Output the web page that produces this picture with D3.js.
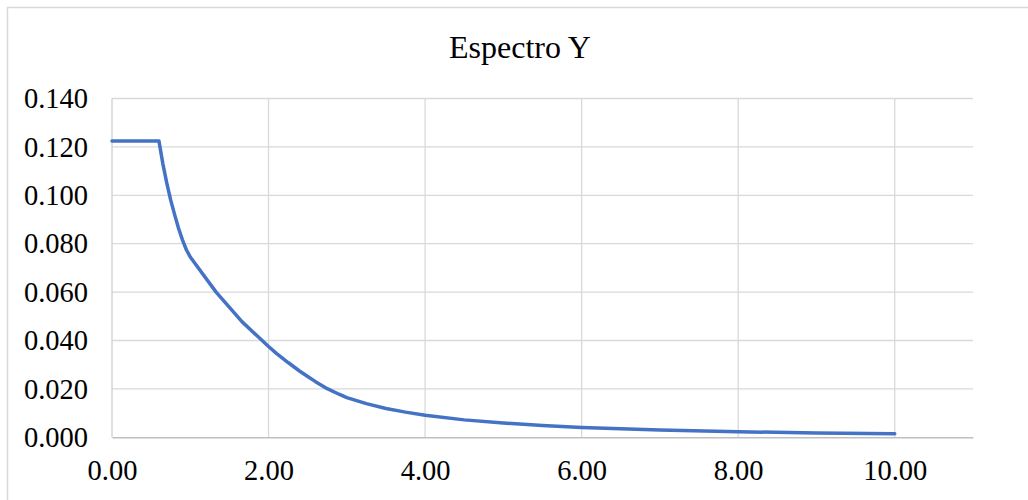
<!DOCTYPE html>
<html>
<head>
<meta charset="utf-8">
<script src="https://cdn.jsdelivr.net/npm/d3@7"></script>
<style>
  body { margin: 0; background: #fff; }
  svg { display: block; font-family: "Liberation Serif", "Times New Roman", serif; }
</style>
</head>
<body>
<div id="chart"></div>
<script>
const title = "Espectro Y";
const periods = [0, 0.6, 0.65, 0.7, 0.75, 0.8, 0.85, 0.9, 0.95, 1.0, 1.33, 1.66, 2.0, 2.1, 2.25, 2.4, 2.5, 2.6, 2.75, 2.9, 3.0, 3.25, 3.5, 3.75, 4.0, 4.5, 5.0, 5.5, 6.0, 7.0, 8.0, 9.0, 10.0];
const accel = [0.1224, 0.1224, 0.1130, 0.1050, 0.0980, 0.0920, 0.0864, 0.0816, 0.0775, 0.0745, 0.0600, 0.0478, 0.0375, 0.0347, 0.0309, 0.0273, 0.0251, 0.0230, 0.0201, 0.0178, 0.0164, 0.0139, 0.0119, 0.0104, 0.0091, 0.0072, 0.0059, 0.0049, 0.0041, 0.0030, 0.0023, 0.0018, 0.0015];
const xTicks = [0, 2, 4, 6, 8, 10];
const yTicks = [0, 0.02, 0.04, 0.06, 0.08, 0.10, 0.12, 0.14];

const width = 1028, height = 500;
const margin = { top: 98.5, right: 55, bottom: 62.7, left: 112 };

const svg = d3.select('#chart').append('svg')
  .attr('width', width)
  .attr('height', height);

// chart area border
svg.append('rect')
  .attr('x', 7.5).attr('y', 7.5)
  .attr('width', 1040).attr('height', 510)
  .attr('fill', 'none')
  .attr('stroke', '#d9d9d9')
  .attr('stroke-width', 1.5);

const x = d3.scaleLinear().domain([0, 11]).range([margin.left, width - margin.right]);
const y = d3.scaleLinear().domain([0, 0.14]).range([height - margin.bottom, margin.top]);

// horizontal gridlines
svg.append('g')
  .selectAll('line')
  .data(yTicks.slice(1))
  .enter().append('line')
  .attr('x1', x(0)).attr('x2', x(11))
  .attr('y1', d => y(d)).attr('y2', d => y(d))
  .attr('stroke', '#d9d9d9')
  .attr('stroke-width', 1.3);

// vertical gridlines
svg.append('g')
  .selectAll('line')
  .data(xTicks)
  .enter().append('line')
  .attr('x1', d => x(d)).attr('x2', d => x(d))
  .attr('y1', y(0.14)).attr('y2', y(0))
  .attr('stroke', d => d === 0 ? '#cfcfcf' : '#d9d9d9')
  .attr('stroke-width', 1.3);

// x axis
const xAxis = svg.append('g')
  .attr('transform', `translate(0,${y(0)})`)
  .call(d3.axisBottom(x).tickValues(xTicks).tickSize(0).tickPadding(22).tickFormat(d3.format('.2f')));
xAxis.select('.domain').attr('stroke', '#bfbfbf').attr('stroke-width', 1.5);
xAxis.selectAll('text')
  .attr('font-family', '"Liberation Serif", "Times New Roman", serif')
  .attr('font-size', 28.5)
  .attr('fill', '#000');

// y axis
const yAxis = svg.append('g')
  .attr('transform', `translate(${x(0)},0)`)
  .call(d3.axisLeft(y).tickValues(yTicks).tickSize(0).tickPadding(24).tickFormat(d3.format('.3f')));
yAxis.select('.domain').remove();
yAxis.selectAll('text')
  .attr('font-family', '"Liberation Serif", "Times New Roman", serif')
  .attr('font-size', 28.5)
  .attr('fill', '#000');

// spectrum line
const line = d3.line()
  .x((d, i) => x(periods[i]))
  .y(d => y(d));

svg.append('path')
  .datum(accel)
  .attr('d', line)
  .attr('fill', 'none')
  .attr('stroke', '#4472c4')
  .attr('stroke-width', 3.5)
  .attr('stroke-linejoin', 'round')
  .attr('stroke-linecap', 'round');

svg.append('text')
  .attr('x', 520)
  .attr('y', 58)
  .attr('text-anchor', 'middle')
  .attr('font-size', 32)
  .attr('fill', '#000')
  .text(title);
</script>
</body>
</html>
